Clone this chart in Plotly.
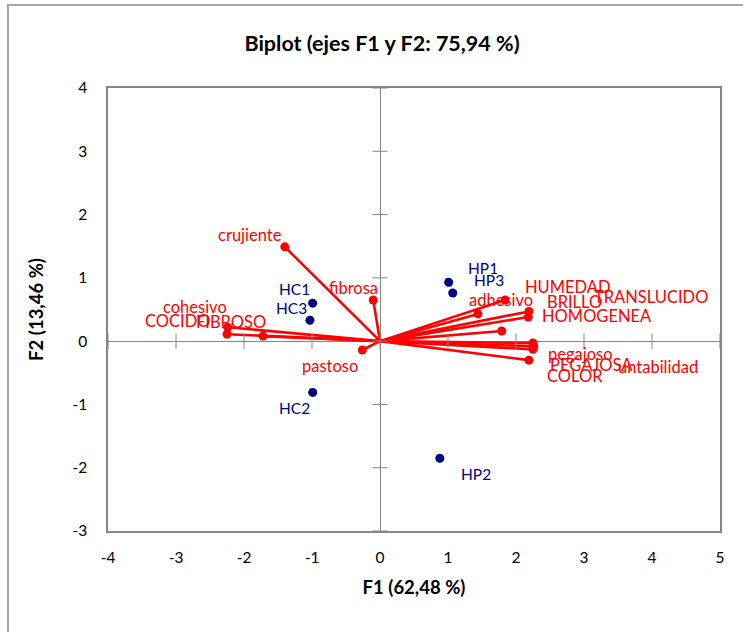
import plotly.graph_objects as go

# Variable loadings (red vectors) on F1 / F2
var_names = ["crujiente", "fibrosa", "pastoso", "cohesivo", "COCIDO", "FIBROSO",
             "adhesivo", "HUMEDAD", "BRILLO", "TRANSLUCIDO", "HOMOGENEA",
             "pegajoso", "PEGAJOSA", "untabilidad", "COLOR"]
var_f1 = [-1.40, -0.10, -0.26, -2.24, -2.25, -1.72,
          1.44, 1.84, 2.19, 2.18, 1.79,
          2.25, 2.26, 2.25, 2.19]
var_f2 = [1.49, 0.65, -0.14, 0.22, 0.11, 0.08,
          0.43, 0.65, 0.47, 0.38, 0.16,
          -0.03, -0.08, -0.13, -0.30]

# Observation scores (navy points)
obs_names = ["HC1", "HC3", "HC2", "HP1", "HP3", "HP2"]
obs_f1 = [-0.99, -1.03, -0.99, 1.01, 1.07, 0.88]
obs_f2 = [0.60, 0.33, -0.81, 0.93, 0.76, -1.85]

x_ticks = list(range(-4, 6))
y_ticks = list(range(-3, 5))
x_tick_text = [str(v) for v in x_ticks]
y_tick_text = [str(v) for v in y_ticks]

# Label placement relative to each point, in pixels (right, up)
var_label_shift = {
    "crujiente": (-35, 12), "fibrosa": (-20, 12), "pastoso": (-32, -16),
    "cohesivo": (-33, 20), "COCIDO": (-50, 13), "FIBROSO": (-32, 14),
    "adhesivo": (23, 14), "HUMEDAD": (63, 13), "BRILLO": (46, 9),
    "TRANSLUCIDO": (123, 20), "HOMOGENEA": (95, 15),
    "pegajoso": (47, -11), "PEGAJOSA": (58, -19),
    "untabilidad": (125, -18), "COLOR": (46, -16),
}
obs_label_shift = {
    "HC1": (-18, 14), "HC3": (-18, 12), "HC2": (-18, -16),
    "HP1": (34, 14), "HP3": (36, 13), "HP2": (36, -16),
}

RED = "#FF0000"
NAVY = "#000080"
GREY = "#868686"
FONT = "Lato"

fig = go.Figure()

# Vectors from the origin
vx, vy = [], []
for a, b in zip(var_f1, var_f2):
    vx += [0, a, None]
    vy += [0, b, None]
fig.add_trace(go.Scatter(x=vx, y=vy, mode="lines",
                         line=dict(color=RED, width=2.6),
                         hoverinfo="skip", showlegend=False))

# Tick crosses on the zero lines
fig.add_trace(go.Scatter(x=x_ticks, y=[0] * len(x_ticks), mode="markers",
                         marker=dict(symbol="line-ns", size=11,
                                     line=dict(color=GREY, width=1)),
                         hoverinfo="skip", showlegend=False))
fig.add_trace(go.Scatter(x=[0] * len(y_ticks), y=y_ticks, mode="markers",
                         marker=dict(symbol="line-ew", size=11,
                                     line=dict(color=GREY, width=1)),
                         hoverinfo="skip", showlegend=False))

# Vector end points
fig.add_trace(go.Scatter(x=var_f1, y=var_f2, mode="markers",
                         marker=dict(color=RED, size=9),
                         text=var_names, showlegend=False))

# Observations
fig.add_trace(go.Scatter(x=obs_f1, y=obs_f2, mode="markers",
                         marker=dict(color=NAVY, size=9),
                         text=obs_names, showlegend=False))

annotations = []
for n, a, b in zip(var_names, var_f1, var_f2):
    dx, dy = var_label_shift[n]
    annotations.append(dict(x=a, y=b, xref="x", yref="y", text=n,
                            showarrow=False, xshift=dx, yshift=dy,
                            font=dict(family=FONT, size=16.5, color=RED)))
for n, a, b in zip(obs_names, obs_f1, obs_f2):
    dx, dy = obs_label_shift[n]
    annotations.append(dict(x=a, y=b, xref="x", yref="y", text=n,
                            showarrow=False, xshift=dx, yshift=dy,
                            font=dict(family=FONT, size=15.5, color=NAVY)))

# Plot area: 108..720 px horizontally, 88..531 px vertically
L, R, T, B = 108, 23, 88, 101
W, H = 743, 632
pw, ph = W - L - R, H - T - B

fig.update_layout(
    width=W, height=H,
    margin=dict(l=L, r=R, t=T, b=B),
    paper_bgcolor="white", plot_bgcolor="white",
    font=dict(family=FONT, size=15, color="#000000"),
    title=dict(text="<b>Biplot (ejes F1 y F2: 75,94 %)</b>",
               x=382 / W, xanchor="center", xref="container",
               y=1 - 43 / H, yanchor="middle", yref="container",
               font=dict(family=FONT, size=21.5, color="#000000")),
    annotations=annotations,
    shapes=[dict(type="rect", xref="paper", yref="paper",
                 x0=(8 - L) / pw, x1=(W + 10 - L) / pw,
                 y0=-(H + 10 - T - ph) / ph, y1=(H - B - 5) / ph,
                 line=dict(color="#A6A6A6", width=2), layer="below")],
)

fig.update_xaxes(range=[-4, 5], tickvals=x_ticks, ticktext=x_tick_text,
                 ticks="", showgrid=False,
                 zeroline=True, zerolinecolor=GREY, zerolinewidth=1,
                 showline=True, mirror=True, linecolor=GREY, linewidth=1.5,
                 tickfont=dict(family=FONT, size=15.5), ticklabelstandoff=12,
                 title=dict(text="<b>F1 (62,48 %)</b>", standoff=16,
                            font=dict(family=FONT, size=18.5)))
fig.update_yaxes(range=[-3, 4], tickvals=y_ticks, ticktext=y_tick_text,
                 ticks="", showgrid=False,
                 zeroline=True, zerolinecolor=GREY, zerolinewidth=1,
                 showline=True, mirror=True, linecolor=GREY, linewidth=1.5,
                 tickfont=dict(family=FONT, size=15.5), ticklabelstandoff=16,
                 title=dict(text="<b>F2 (13,46 %)</b>", standoff=24,
                            font=dict(family=FONT, size=18.5)))

fig.write_html("out.html")
